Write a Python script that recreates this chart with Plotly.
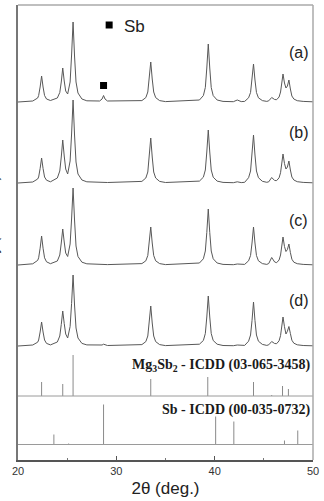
import plotly.graph_objects as go

# ---------------- data ----------------
two_theta = [20.0, 21.5, 22.0, 22.1, 22.25, 22.4, 22.55, 22.7, 22.9, 23.3,
             24.0, 24.25, 24.4, 24.55, 24.7, 24.85, 25.05, 25.3, 25.45, 25.6, 25.75, 25.9, 26.1, 26.5, 27.0,
             28.3, 28.55, 28.7, 28.85, 29.1,
             32.6, 33.0, 33.2, 33.35, 33.5, 33.65, 33.8, 34.0, 34.4, 35.0,
             38.45, 38.85, 39.05, 39.2, 39.35, 39.5, 39.65, 39.85, 40.25, 40.85,
             41.9, 42.3, 42.7,
             43.05, 43.45, 43.65, 43.8, 43.95, 44.1, 44.25, 44.45, 44.85, 45.3,
             45.5, 45.8, 46.1,
             46.3, 46.55, 46.7, 46.8, 46.95, 47.1, 47.25, 47.4, 47.55, 47.7, 47.85, 48.05, 48.4, 49.0, 50.0]

pattern_a = [0, 1, 4, 6.5, 15, 26, 15, 6.5, 3, 1.5,
             4, 9.5, 20, 34, 21, 11, 8, 20, 47, 80, 46, 20, 9, 3, 1.2,
             1, 3, 6.5, 3, 1,
             1.4, 4.4, 10, 23, 40, 23, 10, 4.4, 1.4, 0.4,
             2, 6.4, 14.5, 34, 58, 34, 14.5, 6.4, 2, 0.6,
             0.3, 2, 0.4,
             0.6, 4.2, 9.5, 22, 38, 22, 9.5, 4.2, 1.4, 0.6,
             1.2, 4.5, 2.5,
             2.3, 5, 10, 17, 28, 19, 14, 16, 22, 13, 6, 3, 1.3, 0.6, 0.2]

pattern_b = [0, 1, 4, 6, 14.5, 25, 14.5, 6, 2.8, 1.2,
             5, 12, 26, 43, 27, 14, 9, 22, 49, 83, 48, 21, 9, 3, 1.2,
             0.5, 0.8, 1, 0.8, 0.5,
             1.6, 5, 11, 26, 45, 26, 11, 5, 1.6, 0.5,
             1.9, 5.8, 13, 31, 53, 31, 13, 5.8, 1.9, 0.6,
             0.3, 1.2, 0.4,
             0.7, 5.3, 12, 28, 48, 28, 12, 5.3, 1.7, 0.7,
             1.2, 5.5, 2.5,
             2.4, 5.2, 10.3, 17.5, 29, 19.5, 14, 16, 22, 13, 6, 3, 1.3, 0.6, 0.2]

pattern_c = [0, 1.2, 4.6, 7.2, 16.8, 29, 16.8, 7.2, 3.2, 1.3,
             4, 10, 22, 36, 23, 12, 8.5, 21, 46, 77, 45, 19, 8.5, 2.8, 1.2,
             0.4, 0.6, 0.8, 0.6, 0.4,
             1.4, 4.2, 9.5, 22, 38, 22, 9.5, 4.2, 1.4, 0.4,
             2, 6.2, 14, 32.5, 56, 32.5, 14, 6.2, 2, 0.6,
             0.3, 1, 0.4,
             0.6, 4.2, 9.5, 22, 38, 22, 9.5, 4.2, 1.4, 0.6,
             1.5, 7.5, 3,
             2.3, 5, 10, 17, 28, 18.5, 13.5, 15.5, 21, 12.5, 5.8, 2.8, 1.3, 0.6, 0.2]

pattern_d = [0, 1, 3.8, 6, 14, 24, 14, 6, 2.6, 1.1,
             4, 10, 21.5, 35, 22.5, 12, 8, 19.5, 42.5, 71, 41, 18, 8, 2.6, 1.1,
             0.5, 1, 1.8, 1, 0.5,
             1.4, 4.4, 10, 23, 40, 23, 10, 4.4, 1.4, 0.4,
             1.8, 5.5, 12.5, 29, 50, 29, 12.5, 5.5, 1.8, 0.5,
             0.3, 1, 0.4,
             0.6, 4.8, 11, 25.5, 44, 25.5, 11, 4.8, 1.6, 0.6,
             1.2, 4.5, 2.5,
             2.3, 5.2, 10.4, 17.8, 29, 19.3, 12, 14.8, 19.5, 12.5, 5.8, 2.8, 1.2, 0.5, 0.2]

pattern_labels = ["(a)", "(b)", "(c)", "(d)"]

mg3sb2_pos = [22.4, 24.55, 25.6, 33.5, 39.3, 43.95, 45.8, 46.9, 47.5]
mg3sb2_int = [14, 12, 41, 17, 19, 14, 1, 10, 7]

sb_pos = [23.65, 25.15, 28.7, 40.1, 41.95, 47.1, 48.45]
sb_int = [10, 1, 40, 28, 23, 4, 14]

sb_marked_peaks = [28.7]
x_ticks = [20, 30, 40, 50]

# ---------------- styling / layout constants ----------------
offsets = [358, 277, 195, 114]          # vertical stacking of the patterns
label_y = [408, 328, 240, 160]
mg_base = 64
sb_base = 15.5
LINE = "#585858"
STICK = "#8a8a8a"

fig = go.Figure()

for ys, off in zip([pattern_a, pattern_b, pattern_c, pattern_d], offsets):
    fig.add_trace(go.Scatter(x=two_theta, y=[v + off for v in ys], mode="lines",
                             line=dict(color=LINE, width=1), hoverinfo="skip", showlegend=False))


def sticks(pos, ints, base):
    xs, ys = [], []
    for p, h in zip(pos, ints):
        xs += [p, p, None]
        ys += [base, base + h, None]
    return xs, ys


for pos, ints, base in [(mg3sb2_pos, mg3sb2_int, mg_base), (sb_pos, sb_int, sb_base)]:
    xs, ys = sticks(pos, ints, base)
    fig.add_trace(go.Scatter(x=xs, y=ys, mode="lines", line=dict(color=STICK, width=1),
                             hoverinfo="skip", showlegend=False))

# Sb markers: above the Sb peak in pattern (a) and in the key
fig.add_trace(go.Scatter(x=sb_marked_peaks, y=[offsets[0] + 16.5 for _ in sb_marked_peaks],
                         mode="markers", marker=dict(symbol="square", size=7, color="black"),
                         hoverinfo="skip", showlegend=False))
fig.add_trace(go.Scatter(x=[29.27], y=[435], mode="markers",
                         marker=dict(symbol="square", size=7, color="black"),
                         hoverinfo="skip", showlegend=False))

annotations = [dict(x=30.6, y=434, text="Sb", showarrow=False, xanchor="left",
                    font=dict(family="Liberation Sans", size=17, color="#222"))]
for lab, ly in zip(pattern_labels, label_y):
    annotations.append(dict(x=48.55, y=ly, text=lab, showarrow=False,
                            font=dict(family="Liberation Sans", size=16, color="#222")))
annotations.append(dict(x=49.99, y=95, text="<b>Mg<sub>3</sub>Sb<sub>2</sub> - ICDD (03-065-3458)</b>",
                        showarrow=False, xanchor="right",
                        font=dict(family="Liberation Serif", size=14, color="#1a1a1a")))
annotations.append(dict(x=49.99, y=50, text="<b>Sb - ICDD (00-035-0732)</b>",
                        showarrow=False, xanchor="right",
                        font=dict(family="Liberation Serif", size=14, color="#1a1a1a")))
# y-axis title: lies almost entirely beyond the left edge of the page in the reference
annotations.append(dict(x=-0.12, y=0.49, xref="paper", yref="paper", text="Intensity (arb. units)",
                        textangle=-90, showarrow=False,
                        font=dict(family="Liberation Sans", size=14, color="#333")))

shapes = [
    dict(type="line", xref="paper", yref="y", x0=0, x1=1, y0=mg_base, y1=mg_base,
         line=dict(color="#9a9a9a", width=1)),
    dict(type="line", xref="paper", yref="y", x0=0, x1=1, y0=sb_base, y1=sb_base,
         line=dict(color="#9a9a9a", width=1)),
    dict(type="line", xref="paper", yref="paper", x0=0, x1=1, y0=1, y1=1,
         line=dict(color="#aaaaaa", width=1.5)),
    dict(type="line", xref="paper", yref="paper", x0=1, x1=1, y0=0, y1=1,
         line=dict(color="#aaaaaa", width=1.5)),
]

fig.update_layout(
    width=324, height=501,
    margin=dict(l=18, r=7, t=5, b=41),
    paper_bgcolor="white", plot_bgcolor="white",
    annotations=annotations, shapes=shapes,
    xaxis=dict(range=[20, 50], tickvals=x_ticks, ticks="inside", ticklen=4, tickcolor="#555",
               minor=dict(ticks="inside", ticklen=2, dtick=5, tickcolor="#777"),
               showline=True, linecolor="#555", linewidth=1.5, showgrid=False, zeroline=False,
               tickfont=dict(family="Liberation Sans", size=11, color="#333"),
               title=dict(text="2θ (deg.)", standoff=6,
                          font=dict(family="Liberation Sans", size=17, color="#222"))),
    yaxis=dict(range=[0, 455], showticklabels=False, ticks="", showline=True,
               linecolor="#777", linewidth=1.5, showgrid=False, zeroline=False),
)

fig.write_html("out.html")
